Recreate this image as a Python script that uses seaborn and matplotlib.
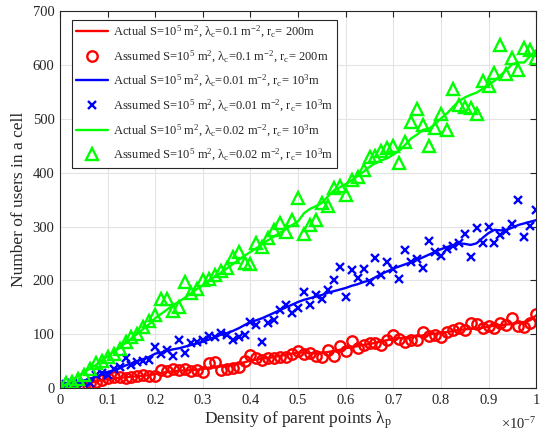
import numpy as np
import matplotlib
matplotlib.use("Agg")
import matplotlib.pyplot as plt
import seaborn as sns

# density of parent points (81 samples from 0 to 1e-7)
density = np.linspace(0, 1e-7, 81)

# red: S=1e5, lambda_c=0.1, r_c=200m
red_actual = [0, 2, 4, 6, 8, 10, 12, 15, 17,
              18, 19, 20, 21, 22, 23, 24, 26,
              28, 30, 31, 32, 33, 33, 34, 35,
              38, 40, 40, 41, 43, 45, 48, 51,
              53, 55, 56, 58, 60, 62, 64, 66,
              66, 65, 64, 65, 67, 69, 71, 74,
              76, 78, 80, 82, 84, 87, 89, 92,
              93, 93, 94, 96, 98, 100, 101, 103,
              104, 106, 108, 109, 110, 111, 112, 114,
              116, 117, 118, 119, 121, 123, 126, 135]
red_assumed = [0, 0, 3, 4, 3, 9, 12, 15, 18, 20, 21, 19, 21, 22, 24, 22, 23,
               33, 32, 35, 34, 35, 32, 34, 30, 46, 49, 34, 35, 38, 40, 50, 61,
               55, 53, 55, 55, 57, 58, 64,
               68, 63, 66, 60, 58, 71, 60, 78, 68, 88, 74, 80, 83, 84, 80, 89,
               98, 92, 86, 89, 90, 105, 97, 98, 94, 105, 108, 111, 107, 120,
               119, 111, 115, 111, 121, 117, 130, 115, 114, 120, 137]

# blue: S=1e5, lambda_c=0.01, r_c=1e3m
blue_actual = [0, 3, 7, 10, 14, 17, 21, 25, 30,
               33, 37, 42, 46, 50, 54, 58, 64,
               66, 69, 72, 74, 77, 80, 83, 86,
               90, 95, 99, 102, 106, 111, 117, 123,
               126, 130, 135, 140, 145, 150, 155, 160,
               164, 167, 170, 173, 177, 180,
               183, 186, 190, 193, 197, 200,
               206, 212, 217, 222,
               226, 230, 234, 238,
               243, 248, 253,
               258, 262, 265, 269,
               268, 266, 269,
               279, 288, 294,
               293, 294, 298, 303,
               306, 309, 312]
blue_assumed = [2, 8, 10, 12, 10, 9, 24, 28, 24, 35, 40, 55, 43, 49, 50, 52,
                77, 64, 71, 60, 90, 66, 83, 86, 89, 96, 95, 102, 98, 89, 94,
                99, 123, 117, 86, 120, 126, 145, 154, 139,
                148, 179, 154, 173, 165, 183, 201, 225, 170, 219, 204, 222,
                198, 241, 210, 235, 222, 203, 256, 235, 239, 224, 273, 253,
                245, 258, 264, 269, 286, 244, 297, 269, 300, 270, 284, 292,
                304, 349, 280, 302, 331]

# green: S=1e5, lambda_c=0.02, r_c=1e3m
green_actual = [0, 7, 14, 22, 29, 36, 43, 51, 59,
                67, 75, 84, 92, 101, 110, 119, 130,
                138, 146, 154, 161, 168, 176, 184, 191,
                199, 207, 214, 222, 230, 238, 246, 253,
                260, 268, 275, 282, 289, 296, 303, 310,
                325, 333, 338, 344, 356, 367, 373, 379,
                386, 394, 402, 411, 418, 423, 427, 434,
                441, 452, 464, 471, 480, 482, 490, 501,
                510, 522, 533, 540, 545, 549, 556, 563,
                571, 581, 591, 602, 605, 605, 617, 628]
green_assumed = [1, 10, 12, 16, 24, 36, 46, 50, 58, 63, 72, 85, 95, 101, 114,
                 125, 136, 166, 165, 144, 150, 198, 176, 184, 200, 202, 210,
                 218, 224, 243, 253, 232, 231, 269, 262, 278,
                 294, 306, 290, 313, 353, 287, 303, 312, 343, 338, 371, 375,
                 359, 387, 393, 405, 430, 431, 440, 446, 450, 418, 458, 495,
                 518, 489, 450, 483, 509, 480, 555, 526, 522, 520, 510, 571,
                 561, 586, 637, 584, 613, 591, 631, 628, 613]

labels = ['Actual S=10$^5$ m$^2$, λ$_{\\rm c}$=0.1 m$^{-2}$, r$_{\\rm c}$= 200m',
          'Assumed S=10$^5$ m$^2$, λ$_{\\rm c}$=0.1 m$^{-2}$, r$_{\\rm c}$= 200m',
          'Actual S=10$^5$ m$^2$, λ$_{\\rm c}$=0.01 m$^{-2}$, r$_{\\rm c}$= 10$^3$m',
          'Assumed S=10$^5$ m$^2$, λ$_{\\rm c}$=0.01 m$^{-2}$, r$_{\\rm c}$= 10$^3$m',
          'Actual S=10$^5$ m$^2$, λ$_{\\rm c}$=0.02 m$^{-2}$, r$_{\\rm c}$= 10$^3$m',
          'Assumed S=10$^5$ m$^2$, λ$_{\\rm c}$=0.02 m$^{-2}$, r$_{\\rm c}$= 10$^3$m']
xtick_labels = ['0', '0.1', '0.2', '0.3', '0.4', '0.5', '0.6', '0.7', '0.8', '0.9', '1']

sns.set_theme(style="whitegrid")
plt.rcParams['font.family'] = ['Liberation Serif', 'DejaVu Serif']
plt.rcParams['mathtext.fontset'] = 'custom'
plt.rcParams['mathtext.rm'] = 'Liberation Serif'
plt.rcParams['mathtext.it'] = 'Liberation Serif:italic'

fig = plt.figure(figsize=(5.51, 4.37), dpi=100)
ax = fig.add_axes([0.109, 0.112, 0.864, 0.862])

RED, BLUE, GREEN = (1, 0, 0), (0, 0, 1), (0, 1, 0)

series = [(red_actual, red_assumed, RED, 'o', 7.5),
          (blue_actual, blue_assumed, BLUE, 'x', 5.5),
          (green_actual, green_assumed, GREEN, '^', 8.5)]
i = 0
for actual, assumed, col, mk, ms in series:
    sns.lineplot(x=density, y=actual, ax=ax, color=col, lw=1.7,
                 estimator=None, sort=False, label=labels[i])
    sns.lineplot(x=density, y=assumed, ax=ax, color=col, linestyle='',
                 marker=mk, markersize=ms, markerfacecolor='none',
                 markeredgecolor=col, markeredgewidth=1.7,
                 estimator=None, sort=False, label=labels[i + 1])
    i += 2

ax.set_xlim(0, 1e-7)
ax.set_ylim(0, 700)
ax.set_xticks(np.linspace(0, 1e-7, 11))
ax.set_xticklabels(xtick_labels)
ax.set_yticks(range(0, 701, 100))
ax.grid(True, color='#e3e3e3', lw=0.8)
ax.tick_params(direction='in', length=4, width=0.8, colors='#262626',
               labelsize=10.5, top=True, right=True, pad=4)
for s in ax.spines.values():
    s.set_color('#262626')
    s.set_linewidth(0.8)

ax.set_xlabel('Density of parent points λ$_{\\rm p}$', fontsize=12.5,
              color='#262626', labelpad=2)
ax.set_ylabel('Number of users in a cell', fontsize=12.5, color='#262626',
              labelpad=4)
ax.text(1.0, -0.075, '×10$^{-7}$', transform=ax.transAxes,
        ha='right', va='top', fontsize=10.5, color='#262626')

leg = ax.legend(loc='upper left', bbox_to_anchor=(0.02, 0.985), fontsize=9,
                frameon=True, fancybox=False, framealpha=1, borderpad=0.35,
                labelspacing=0.68, handlelength=2.5, handletextpad=0.4,
                borderaxespad=0.2)
leg.get_frame().set_edgecolor('#262626')
leg.get_frame().set_linewidth(0.8)

fig.savefig('out.png', dpi=100)
